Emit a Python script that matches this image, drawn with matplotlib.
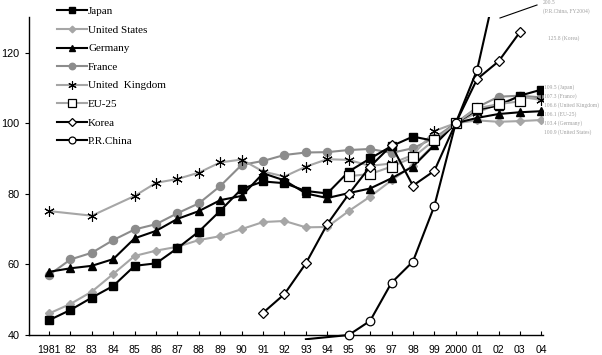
import numpy as np
import matplotlib
matplotlib.use("Agg")
import matplotlib.pyplot as plt

# ---- data (index, 2000 = 100) ----
years = list(range(1981, 2005))
tick_labels = ["1981"] + ["%02d" % (y % 100) for y in range(1982, 2000)] + ["2000", "01", "02", "03", "04"]

japan = [44.2, 47.1, 50.6, 53.9, 59.6, 60.3, 64.6, 69.3, 75.2, 81.4, 83.5, 83.0,
         80.8, 80.1, 86.3, 90.0, 93.5, 96.2, 95.0, 100.0, 103.8, 105.0, 107.8, 109.5]
usa = [46.1, 48.8, 52.3, 57.3, 62.4, 63.9, 65.0, 66.9, 68.0, 70.0, 72.0, 72.3,
       70.5, 70.6, 75.1, 79.2, 83.8, 88.0, 94.0, 100.0, 100.8, 100.4, 100.6, 100.9]
germany = [57.9, 58.9, 59.6, 61.5, 67.4, 69.5, 72.9, 75.1, 78.2, 79.4, 85.8, 83.8,
           80.1, 78.8, 80.2, 81.5, 84.4, 87.7, 93.8, 100.0, 101.5, 102.6, 103.1, 103.4]
france = [57.0, 61.4, 63.3, 66.9, 69.9, 71.4, 74.5, 77.3, 82.2, 88.2, 89.3, 91.0,
          91.7, 91.8, 92.4, 92.7, 91.6, 92.9, 95.8, 100.0, 104.5, 107.5, 107.8, 107.3]
uk_years = [1981, 1983, 1985, 1986, 1987, 1988, 1989, 1990, 1991, 1992, 1993, 1994,
            1995, 1996, 1997, 1998, 1999, 2000, 2001, 2002, 2003, 2004]
uk = [75.1, 73.8, 79.4, 83.1, 84.2, 86.0, 88.9, 89.7, 86.3, 84.9, 87.7, 89.8,
      89.6, 87.9, 88.6, 91.0, 97.8, 100.0, 103.0, 105.5, 107.5, 106.6]
eu_years = list(range(1995, 2004))
eu25 = [85.0, 85.6, 87.7, 90.3, 95.2, 100.0, 104.2, 105.4, 106.2]
korea_years = list(range(1991, 2004))
korea = [46.3, 51.6, 60.3, 71.4, 79.9, 87.7, 93.7, 82.3, 86.5, 100.0, 112.5, 117.5, 125.8]
china_years = list(range(1993, 2005))
china = [38.8, 39.4, 40.0, 44.0, 54.8, 60.8, 76.5, 100.0, 115.1, 142.0, 170.0, 200.5]

end_notes = [("109.5 (Japan)", 87), ("107.3 (France)", 96), ("106.6 (United Kingdom)", 105),
             ("106.1 (EU-25)", 114), ("103.4 (Germany)", 123), ("100.9 (United States)", 132)]

plt.rcParams['font.family'] = ['Liberation Sans', 'DejaVu Sans']

fig = plt.figure(figsize=(6.02, 3.55), dpi=100)
ax = fig.add_axes([0.0477, 0.0414, 0.854, 0.9099])
ax.set_xlim(1980.05, 2004.07)
ax.set_ylim(38.5, 130)

lw = 1.5
ax.plot(years, usa, color='#a6a6a6', lw=lw, marker='D', ms=4.2,
        mfc='#a6a6a6', mec='#a6a6a6', label='United States', zorder=2)
ax.plot(years, france, color='#8c8c8c', lw=lw, marker='o', ms=5.8,
        mfc='#8c8c8c', mec='#8c8c8c', label='France', zorder=2)
ax.plot(uk_years, uk, color='#a6a6a6', lw=lw, marker=(6, 2, 0), ms=7.5,
        mec='black', mew=0.8, label='United  Kingdom', zorder=3)
ax.plot(years, japan, color='black', lw=lw, marker='s', ms=5.2,
        mfc='black', mec='black', label='Japan', zorder=4)
ax.plot(years, germany, color='black', lw=lw, marker='^', ms=6.2,
        mfc='black', mec='black', label='Germany', zorder=4)
ax.plot(eu_years, eu25, color='#a6a6a6', lw=lw, marker='s', ms=6.8,
        mfc='white', mec='black', mew=0.9, label='EU-25', zorder=5)
ax.plot(korea_years, korea, color='black', lw=lw, marker='D', ms=5.0,
        mfc='white', mec='black', mew=0.9, label='Korea', zorder=6)
ax.plot(china_years, china, color='black', lw=lw, marker='o', ms=6.2,
        mfc='white', mec='black', mew=0.9, label='P.R.China', zorder=6,
        markevery=slice(2, None))

# axes look
for s in ['top', 'right']:
    ax.spines[s].set_visible(False)
ax.spines['bottom'].set_position(('data', 40))
ax.spines['left'].set_bounds(40, 130)
ax.spines['left'].set_linewidth(1)
ax.spines['bottom'].set_linewidth(1)
ax.set_xticks(years)
ax.set_xticklabels(tick_labels, fontsize=7.6)
ax.set_yticks([40, 60, 80, 100, 120])
ax.tick_params(axis='x', direction='in', length=3, pad=7)
ax.tick_params(axis='y', direction='out', length=3, labelsize=7.8, pad=3.5)

# legend in wanted order
h, l = ax.get_legend_handles_labels()
order = ['Japan', 'United States', 'Germany', 'France', 'United  Kingdom', 'EU-25', 'Korea', 'P.R.China']
hh = [h[l.index(o)] for o in order]
leg = fig.legend(hh, order, loc='upper left', bbox_to_anchor=(57 / 602, 1 - 6.5 / 355),
                 frameon=False, borderpad=0, borderaxespad=0, handlelength=2.7,
                 handletextpad=0.1, labelspacing=0.79, markerscale=0.8,
                 prop={'family': 'Liberation Serif', 'size': 8})

# end-value notes
note_kw = dict(fontsize=4.0, color='#a0a0a0', family='Liberation Serif', va='center', ha='left')
for txt, ypx in end_notes:
    fig.text(544 / 602, 1 - ypx / 355, txt, **note_kw)
fig.text(543 / 602, 1 - 3 / 355, "200.5", **note_kw)
fig.text(543 / 602, 1 - 11.5 / 355, "(P.R.China, FY2004)", **note_kw)
fig.text(548 / 602, 1 - 38 / 355, "125.8 (Korea)", **note_kw)
fig.add_artist(plt.Line2D([500 / 602, 537 / 602], [1 - 18 / 355, 1 - 5 / 355],
                          color='black', lw=0.8))

fig.savefig("out.png", dpi=100)
